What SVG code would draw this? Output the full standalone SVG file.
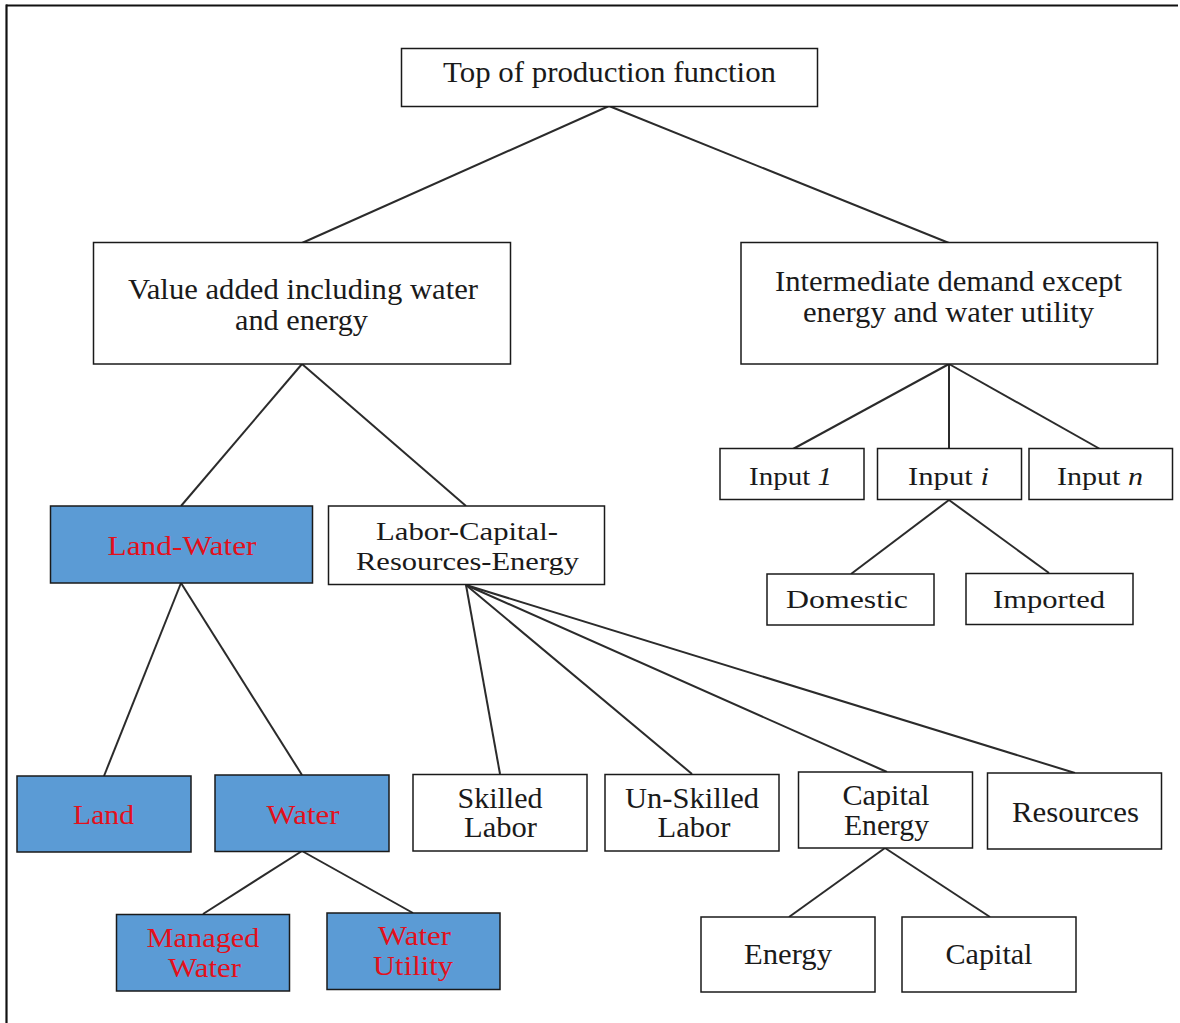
<svg xmlns="http://www.w3.org/2000/svg" width="1180" height="1023" viewBox="0 0 1180 1023">
<style>
.box{fill:#ffffff;stroke:#1a1a1a;stroke-width:1.5}
.blue{fill:#5B9BD5;stroke:#1a1a1a;stroke-width:1.5}
.t{font-family:"Liberation Serif","Times New Roman",serif;fill:#1a1a1a;text-anchor:middle}
.r{font-family:"Liberation Serif","Times New Roman",serif;fill:#E3101B;text-anchor:middle}
.conn line{stroke:#2b2b2b;stroke-width:2}
</style>
<rect width="1180" height="1023" fill="#ffffff"/>
<g id="frame" stroke="#111" stroke-width="2.2" fill="none">
<line x1="6" y1="5.5" x2="1178" y2="5.5"/>
<line x1="6.5" y1="4.5" x2="6.5" y2="1023"/>
</g>
<g id="connectors" class="conn">
<line x1="609" y1="106" x2="302" y2="243"/>
<line x1="609" y1="106" x2="949" y2="243"/>
<line x1="302" y1="364" x2="181" y2="506"/>
<line x1="302" y1="364" x2="466" y2="506"/>
<line x1="949" y1="364" x2="793" y2="449"/>
<line x1="949" y1="364" x2="949" y2="449"/>
<line x1="949" y1="364" x2="1100" y2="449"/>
<line x1="949" y1="500" x2="851" y2="574"/>
<line x1="949" y1="500" x2="1049" y2="573"/>
<line x1="181" y1="583" x2="104" y2="776"/>
<line x1="181" y1="583" x2="302" y2="775"/>
<line x1="466" y1="585" x2="500" y2="774"/>
<line x1="466" y1="585" x2="692" y2="774"/>
<line x1="466" y1="585" x2="887" y2="772"/>
<line x1="466" y1="585" x2="1075" y2="773"/>
<line x1="302" y1="851" x2="203" y2="914"/>
<line x1="302" y1="851" x2="413" y2="913"/>
<line x1="885" y1="848" x2="789" y2="917"/>
<line x1="885" y1="848" x2="990" y2="917"/>
</g>
<g id="top"><rect class="box" x="401.5" y="48.5" width="416" height="58"/>
<text class="t" x="609.5" y="82" font-size="30" textLength="333" lengthAdjust="spacingAndGlyphs">Top of production function</text></g>
<g id="value-added"><rect class="box" x="93.5" y="242.5" width="417" height="121.5"/>
<text class="t" x="303" y="299" font-size="30" textLength="350" lengthAdjust="spacingAndGlyphs">Value added including water</text>
<text class="t" x="301.5" y="330" font-size="30" textLength="133" lengthAdjust="spacingAndGlyphs">and energy</text></g>
<g id="intermediate"><rect class="box" x="741" y="242.5" width="416.5" height="121.5"/>
<text class="t" x="948.5" y="291" font-size="29" textLength="347" lengthAdjust="spacingAndGlyphs">Intermediate demand except</text>
<text class="t" x="948.5" y="322" font-size="29" textLength="291" lengthAdjust="spacingAndGlyphs">energy and water utility</text></g>
<g id="input1"><rect class="box" x="720" y="448.5" width="144" height="51"/>
<text class="t" x="790.5" y="485" font-size="26" textLength="83" lengthAdjust="spacingAndGlyphs">Input <tspan font-style="italic">1</tspan></text></g>
<g id="inputi"><rect class="box" x="877.5" y="448.5" width="144" height="51"/>
<text class="t" x="948.5" y="485" font-size="26" textLength="81" lengthAdjust="spacingAndGlyphs">Input <tspan font-style="italic">i</tspan></text></g>
<g id="inputn"><rect class="box" x="1029" y="448.5" width="143.5" height="51"/>
<text class="t" x="1100" y="485" font-size="26" textLength="86" lengthAdjust="spacingAndGlyphs">Input <tspan font-style="italic">n</tspan></text></g>
<g id="domestic"><rect class="box" x="767" y="574" width="167" height="51"/>
<text class="t" x="847" y="608" font-size="26" textLength="122" lengthAdjust="spacingAndGlyphs">Domestic</text></g>
<g id="imported"><rect class="box" x="966" y="573.5" width="167" height="51"/>
<text class="t" x="1049" y="608" font-size="26" textLength="112" lengthAdjust="spacingAndGlyphs">Imported</text></g>
<g id="land-water"><rect class="blue" x="50.5" y="506" width="262" height="77"/>
<text class="r" x="182" y="555" font-size="28" textLength="149" lengthAdjust="spacingAndGlyphs">Land-Water</text></g>
<g id="labor-capital"><rect class="box" x="328.5" y="506" width="276" height="78.5"/>
<text class="t" x="467" y="540" font-size="26" textLength="182" lengthAdjust="spacingAndGlyphs">Labor-Capital-</text>
<text class="t" x="467.5" y="570" font-size="26" textLength="223" lengthAdjust="spacingAndGlyphs">Resources-Energy</text></g>
<g id="land"><rect class="blue" x="17" y="776" width="174" height="76"/>
<text class="r" x="103.5" y="824" font-size="28" textLength="61" lengthAdjust="spacingAndGlyphs">Land</text></g>
<g id="water"><rect class="blue" x="215" y="775" width="174" height="76.5"/>
<text class="r" x="303" y="824" font-size="28" textLength="73" lengthAdjust="spacingAndGlyphs">Water</text></g>
<g id="managed-water"><rect class="blue" x="116.5" y="914.5" width="173" height="76.5"/>
<text class="r" x="203" y="947" font-size="27" textLength="113" lengthAdjust="spacingAndGlyphs">Managed</text>
<text class="r" x="204.5" y="977" font-size="27" textLength="73" lengthAdjust="spacingAndGlyphs">Water</text></g>
<g id="water-utility"><rect class="blue" x="327" y="913" width="173" height="76.5"/>
<text class="r" x="414.5" y="945" font-size="27" textLength="73" lengthAdjust="spacingAndGlyphs">Water</text>
<text class="r" x="413" y="975" font-size="27" textLength="80" lengthAdjust="spacingAndGlyphs">Utility</text></g>
<g id="skilled"><rect class="box" x="413" y="774.5" width="174" height="76.5"/>
<text class="t" x="500" y="808" font-size="29" textLength="85" lengthAdjust="spacingAndGlyphs">Skilled</text>
<text class="t" x="500.5" y="837" font-size="29" textLength="73" lengthAdjust="spacingAndGlyphs">Labor</text></g>
<g id="unskilled"><rect class="box" x="605" y="774.5" width="174" height="76.5"/>
<text class="t" x="692" y="808" font-size="29" textLength="134" lengthAdjust="spacingAndGlyphs">Un-Skilled</text>
<text class="t" x="694" y="837" font-size="29" textLength="73" lengthAdjust="spacingAndGlyphs">Labor</text></g>
<g id="capital-energy"><rect class="box" x="798.5" y="772" width="174" height="76"/>
<text class="t" x="886" y="805" font-size="29" textLength="87" lengthAdjust="spacingAndGlyphs">Capital</text>
<text class="t" x="886.5" y="835" font-size="29" textLength="85" lengthAdjust="spacingAndGlyphs">Energy</text></g>
<g id="resources"><rect class="box" x="987.5" y="773" width="174" height="76"/>
<text class="t" x="1075.5" y="822" font-size="29" textLength="127" lengthAdjust="spacingAndGlyphs">Resources</text></g>
<g id="energy"><rect class="box" x="701" y="917" width="174" height="75"/>
<text class="t" x="788" y="964" font-size="29" textLength="88" lengthAdjust="spacingAndGlyphs">Energy</text></g>
<g id="capital"><rect class="box" x="902" y="917" width="174" height="75"/>
<text class="t" x="989" y="964" font-size="29" textLength="87" lengthAdjust="spacingAndGlyphs">Capital</text></g>
</svg>
